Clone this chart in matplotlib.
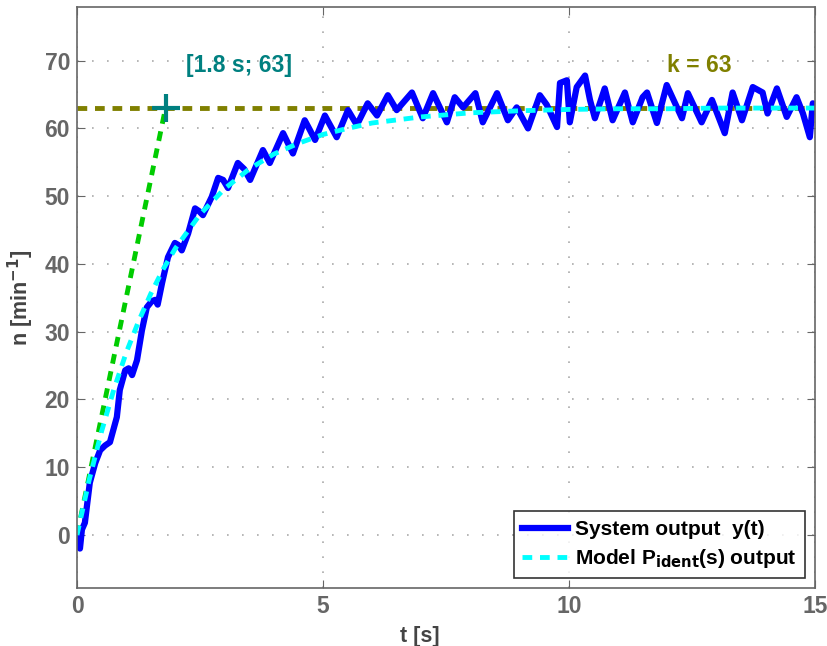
import numpy as np
import matplotlib
matplotlib.use('Agg')
import matplotlib.pyplot as plt

plt.rcParams['font.family'] = ['Liberation Sans', 'DejaVu Sans']
plt.rcParams['font.weight'] = 'bold'

# measured system output y(t)
t_sys = [0, 0.03, 0.06, 0.1, 0.16, 0.26, 0.37, 0.47, 0.57, 0.67, 0.81, 0.87, 0.98, 1.05, 1.12,
         1.22, 1.32, 1.42, 1.52, 1.59, 1.64, 1.73, 1.85, 1.99, 2.06, 2.13, 2.26, 2.40, 2.48, 2.56,
         2.74, 2.87, 2.97, 3.07, 3.27, 3.40, 3.52, 3.78, 3.92, 4.19, 4.39, 4.63, 4.74, 4.84, 5.04,
         5.28, 5.51, 5.69, 5.91, 6.10, 6.32, 6.50, 6.81, 7.03, 7.24, 7.52, 7.68, 7.85, 8.10, 8.25,
         8.54, 8.76, 8.94, 9.17, 9.41, 9.55, 9.76, 9.82, 9.96, 10.02, 10.16, 10.33, 10.43, 10.53, 10.73,
         10.89, 11.14, 11.30, 11.50, 11.59, 11.79, 11.99, 12.30, 12.42, 12.70, 12.91, 13.17, 13.33, 13.52,
         13.74, 13.94, 14.04, 14.23, 14.43, 14.63, 14.76, 14.90, 14.96, 15.0]
y_sys = [0.0, -1.5, -2.0, 0.8, 1.8, 7.7, 10.6, 12.5, 13.2, 13.7, 17.4, 21.4, 24.3, 24.6, 23.6,
         25.8, 30.2, 33.6, 34.5, 34.7, 34.0, 37.2, 41.0, 43.1, 42.8, 42.0, 44.5, 48.2, 47.8, 47.2,
         49.9, 52.7, 52.4, 51.2, 54.9, 54.0, 52.4, 56.8, 54.9, 59.3, 56.3, 61.2, 59.7, 58.3, 61.9,
         58.7, 62.7, 60.5, 63.7, 61.9, 64.9, 62.7, 65.3, 61.5, 65.2, 60.9, 64.6, 63.1, 65.2, 60.9,
         65.2, 61.2, 63.1, 60.0, 64.9, 63.5, 60.2, 66.7, 67.1, 60.9, 66.1, 67.8, 64.2, 61.5, 65.9,
         61.2, 65.3, 60.9, 64.6, 65.3, 60.8, 66.4, 61.5, 65.2, 60.9, 64.2, 59.3, 65.3, 61.2,
         66.1, 65.3, 62.2, 65.9, 61.7, 64.6, 62.2, 58.7, 63.7, 63.0]

# identified model output
t_mod = [0, 0.25, 0.5, 0.75, 1.0, 1.25, 1.5, 1.75, 2.0, 2.5, 3.0, 3.5, 4.0, 4.5, 5.0, 5.5,
         6.0, 7.0, 8.0, 9.0, 10.0, 11.0, 12.0, 13.0, 14.0, 15.0]
y_mod = [0, 8.2, 15.3, 21.5, 26.9, 31.5, 35.6, 39.2, 42.3, 47.3, 51.1, 54.0, 56.2, 57.8, 59.1, 60.0,
         60.8, 61.7, 62.3, 62.6, 62.8, 62.9, 62.9, 63.0, 63.0, 63.0]

# gain and time constant
k = 63
T = 1.8
t_tan = [0, T]
y_tan = [0, k]

fig = plt.figure(figsize=(8.28, 6.46), dpi=100)
ax = fig.add_axes([0.093, 0.090, 0.891, 0.899])

ax.plot(t_tan, y_tan, '--', color='#00cc00', lw=3.5, dashes=(2, 1.6))
ax.plot([0, 15], [k, k], '--', color='#808000', lw=3.5, dashes=(2, 1.6))
l1, = ax.plot(t_sys, y_sys, '-', color='#0000ff', lw=4.5, label='System output  y(t)')
l2, = ax.plot(t_mod, y_mod, '--', color='#00ffff', lw=3.5, dashes=(2, 1.6),
              label='Model P$_{\\mathbf{ident}}$(s) output')
ax.plot([T], [k], '+', color='#008080', ms=20, mew=3)

ax.text(3.3, 69.3, '[1.8 s; 63]', color='#008080', fontsize=16.5, fontweight='bold',
        ha='center', va='center')
ax.text(12.65, 69.3, 'k = 63', color='#808000', fontsize=16.5, fontweight='bold',
        ha='center', va='center')

ax.set_xlim(0, 15)
ax.set_ylim(-7.8, 77.9)
ax.set_xticks([0, 5, 10, 15])
ax.set_yticks([0, 10, 20, 30, 40, 50, 60, 70])
ax.tick_params(direction='in', length=6, colors='#666666', labelsize=16.5, pad=5,
               top=True, right=True)
for lab in ax.get_xticklabels() + ax.get_yticklabels():
    lab.set_fontweight('bold')
for s in ax.spines.values():
    s.set_color('#666666')
    s.set_linewidth(1.2)
ax.grid(True, linestyle=(0, (1, 8)), color='#aaaaaa', lw=1.2)

ax.set_xlabel('t [s]', fontsize=15.5, fontweight='bold', color='#444444', labelpad=0)
ax.xaxis.set_label_coords(0.465, -0.065)
ax.set_ylabel('n [min$^{\\mathbf{-1}}$]', fontsize=15.5, fontweight='bold', color='#444444', labelpad=6)

leg = ax.legend(handles=[l1, l2], loc='lower right', fontsize=15, frameon=True, fancybox=False,
                handlelength=2.2, borderpad=0.4, labelspacing=0.4, handletextpad=0.35,
                borderaxespad=0.45)
leg.get_frame().set_edgecolor('black')
leg.get_frame().set_linewidth(1.2)
for txt in leg.get_texts():
    txt.set_fontweight('bold')

plt.savefig('out.png', dpi=100)
